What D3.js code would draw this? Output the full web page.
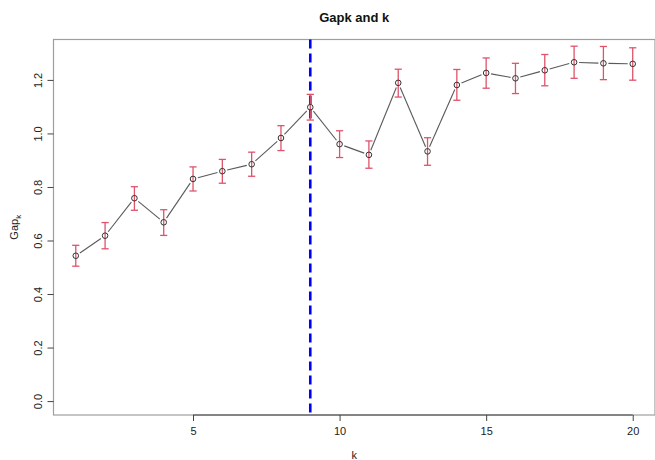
<!DOCTYPE html>
<html>
<head>
<meta charset="utf-8">
<script src="https://cdn.jsdelivr.net/npm/d3@7"></script>
<style>
  body { margin: 0; background: #fff; }
  svg text { font-family: "Liberation Sans", Arial, sans-serif; }
</style>
</head>
<body>
<div id="viz"></div>
<script>
/* Gap statistic by number of clusters k, with error bars */

var ks = [1, 2, 3, 4, 5, 6, 7, 8, 9, 10, 11, 12, 13, 14, 15, 16, 17, 18, 19, 20];
var gap = [0.543, 0.618, 0.758, 0.668, 0.830, 0.859, 0.885, 0.983, 1.098, 0.960,
           0.920, 1.189, 0.933, 1.181, 1.226, 1.206, 1.236, 1.266, 1.262, 1.260];
var gapUpper = [0.582, 0.667, 0.801, 0.715, 0.875, 0.903, 0.930, 1.029, 1.146, 1.010,
                0.972, 1.240, 0.984, 1.239, 1.282, 1.262, 1.295, 1.326, 1.325, 1.320];
var gapLower = [0.504, 0.569, 0.713, 0.619, 0.785, 0.814, 0.840, 0.936, 1.050, 0.910,
                0.870, 1.136, 0.881, 1.124, 1.169, 1.149, 1.178, 1.206, 1.201, 1.199];
var bestK = 9;
var xTicks = [5, 10, 15, 20];
var yTicks = [0.0, 0.2, 0.4, 0.6, 0.8, 1.0, 1.2];

var width = 655, height = 460,
    margin = { top: 39.5, right: 0, bottom: 45, left: 53.5 };

var svg = d3.select('#viz').append('svg')
    .attr('width', width)
    .attr('height', height);

var x = d3.scaleLinear()
    .domain([1 - 0.76, 20 + 0.76])
    .range([margin.left, width - margin.right]);

var y = d3.scaleLinear()
    .domain([-0.052, 1.351])
    .range([height - margin.bottom, margin.top]);

// plot box
svg.append('rect')
    .attr('x', x.range()[0])
    .attr('y', y.range()[1])
    .attr('width', x.range()[1] - x.range()[0])
    .attr('height', y.range()[0] - y.range()[1])
    .attr('fill', 'none')
    .attr('stroke', '#9e9e9e')
    .attr('stroke-width', 1.2);

// axes, R style
var xAxis = d3.axisBottom(x).tickValues(xTicks).tickSize(6).tickPadding(6)
    .tickFormat(d3.format('d'));
var xg = svg.append('g')
    .attr('transform', 'translate(0,' + y.range()[0] + ')')
    .call(xAxis);
xg.select('.domain')
    .attr('d', 'M' + x(xTicks[0]) + ',0H' + x(xTicks[xTicks.length - 1]))
    .attr('stroke', '#444');
xg.selectAll('.tick line').attr('stroke', '#444');
xg.selectAll('text').attr('font-size', 11).attr('fill', '#222');

var yAxis = d3.axisLeft(y).tickValues(yTicks).tickSize(6).tickPadding(5)
    .tickFormat(d3.format('.1f'));
var yg = svg.append('g')
    .attr('transform', 'translate(' + x.range()[0] + ',0)')
    .call(yAxis);
yg.select('.domain').attr('stroke', 'none');
yg.selectAll('.tick line').attr('stroke', '#444');
yg.selectAll('text')
    .attr('font-size', 11)
    .attr('fill', '#222')
    .attr('text-anchor', 'middle')
    .attr('x', null)
    .attr('dy', null)
    .attr('transform', 'translate(-11.5,0) rotate(-90)');

// title and labels
svg.append('text')
    .attr('x', (x.range()[0] + x.range()[1]) / 2)
    .attr('y', 22)
    .attr('text-anchor', 'middle')
    .attr('font-size', 13)
    .attr('font-weight', 'bold')
    .attr('fill', '#111')
    .text('Gapk and k');

svg.append('text')
    .attr('x', (x.range()[0] + x.range()[1]) / 2)
    .attr('y', 459)
    .attr('text-anchor', 'middle')
    .attr('font-size', 11)
    .attr('fill', '#222')
    .text('k');

var ylab = svg.append('text')
    .attr('transform', 'translate(18,' + (y.range()[0] + y.range()[1]) / 2 + ') rotate(-90)')
    .attr('text-anchor', 'middle')
    .attr('font-size', 11)
    .attr('fill', '#222');
ylab.append('tspan').text('Gap');
ylab.append('tspan').attr('font-size', 8).attr('dy', 3).text('k');

// best k line
svg.append('line')
    .attr('x1', x(bestK)).attr('x2', x(bestK))
    .attr('y1', y.range()[1]).attr('y2', y.range()[0])
    .attr('stroke', '#0000ff')
    .attr('stroke-width', 2.6)
    .attr('stroke-dasharray', '9,5');

// connecting line with gaps at points (type = "b")
var pts = ks.map(function(k, i) { return [x(k), y(gap[i])]; });
var gapR = 5;
for (var i = 0; i < pts.length - 1; i++) {
  var a = pts[i], b = pts[i + 1],
      dx = b[0] - a[0], dy = b[1] - a[1],
      len = Math.sqrt(dx * dx + dy * dy);
  if (len <= 2 * gapR) continue;
  svg.append('line')
    .attr('x1', a[0] + dx / len * gapR).attr('y1', a[1] + dy / len * gapR)
    .attr('x2', b[0] - dx / len * gapR).attr('y2', b[1] - dy / len * gapR)
    .attr('stroke', '#5a5a5a')
    .attr('stroke-width', 1.1);
}

// error bars
var bars = svg.append('g')
    .attr('stroke', '#df536b')
    .attr('stroke-width', 1.3)
    .selectAll('g').data(ks)
    .enter().append('g');
bars.append('line')
    .attr('x1', function(d) { return x(d); })
    .attr('x2', function(d) { return x(d); })
    .attr('y1', function(d, i) { return y(gapLower[i]); })
    .attr('y2', function(d, i) { return y(gapUpper[i]); });
bars.append('line')
    .attr('x1', function(d) { return x(d) - 3.6; })
    .attr('x2', function(d) { return x(d) + 3.6; })
    .attr('y1', function(d, i) { return y(gapUpper[i]); })
    .attr('y2', function(d, i) { return y(gapUpper[i]); });
bars.append('line')
    .attr('x1', function(d) { return x(d) - 3.6; })
    .attr('x2', function(d) { return x(d) + 3.6; })
    .attr('y1', function(d, i) { return y(gapLower[i]); })
    .attr('y2', function(d, i) { return y(gapLower[i]); });

// points
svg.append('g').selectAll('circle').data(ks)
  .enter().append('circle')
    .attr('cx', function(d) { return x(d); })
    .attr('cy', function(d, i) { return y(gap[i]); })
    .attr('r', 2.8)
    .attr('fill', 'none')
    .attr('stroke', '#333')
    .attr('stroke-width', 1);
</script>
</body>
</html>
